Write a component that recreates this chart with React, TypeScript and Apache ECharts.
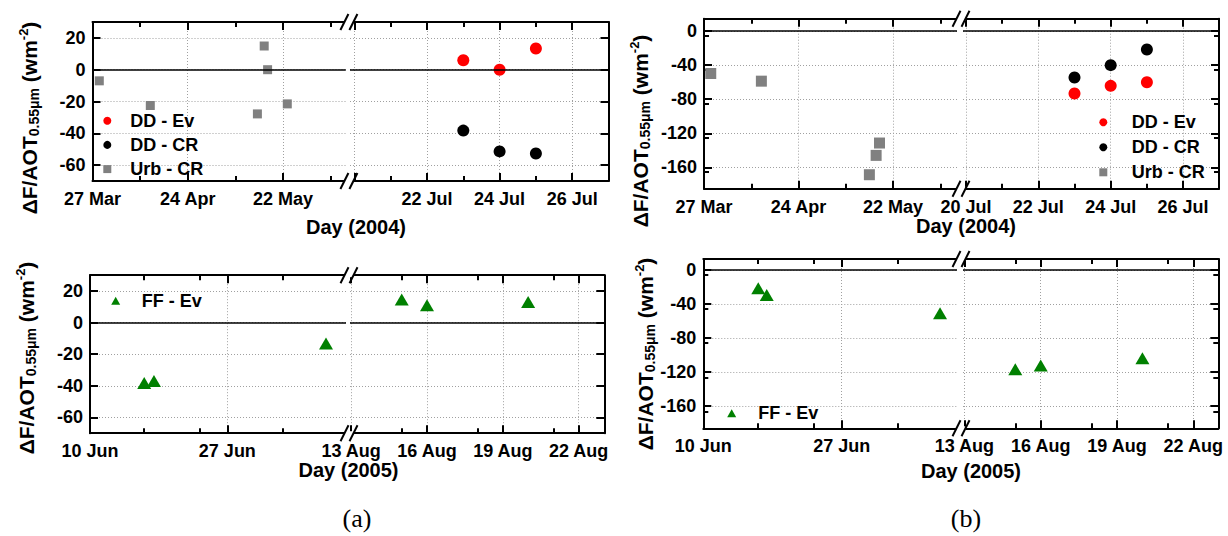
import React, { useEffect, useRef } from 'react';
import * as echarts from 'echarts';

const FONT = '"Liberation Sans", Arial, sans-serif';
const SERIF = '"Liberation Serif", "Times New Roman", serif';

// ---------------- data (date, ΔF/AOT in W m-2) ----------------
const aTopDDEv: [string, number][] = [['2004-07-23', 5.9], ['2004-07-24', 0], ['2004-07-25', 13.3]];
const aTopDDCR: [string, number][] = [['2004-07-23', -38.3], ['2004-07-24', -51.4], ['2004-07-25', -52.7]];
const aTopUrbCR: [string, number][] = [
  ['2004-03-29', -7], ['2004-04-13', -22.5], ['2004-05-14T12:00', -27.8],
  ['2004-05-16T12:00', 14.9], ['2004-05-17T12:00', 0], ['2004-05-23T07:00', -21.5],
];
const bTopDDEv: [string, number][] = [['2004-07-23', -73.3], ['2004-07-24', -64.3], ['2004-07-25', -60]];
const bTopDDCR: [string, number][] = [['2004-07-23', -54.5], ['2004-07-24', -40], ['2004-07-25', -21.6]];
const bTopUrbCR: [string, number][] = [
  ['2004-03-29', -49.8], ['2004-04-13', -58.8], ['2004-05-15', -168.6],
  ['2004-05-17', -145.9], ['2004-05-18', -131.4],
];
const aBotFFEv: [string, number][] = [
  ['2005-06-16T17:00', -38.3], ['2005-06-17T22:00', -37], ['2005-07-09T05:00', -13.3],
  ['2005-08-15', 14.6], ['2005-08-16', 11], ['2005-08-20', 13],
];
const bBotFFEv: [string, number][] = [
  ['2005-06-16T18:00', -21.5], ['2005-06-17T19:00', -29.3], ['2005-07-09T02:00', -50.8],
  ['2005-08-15', -116.5], ['2005-08-16', -112.3], ['2005-08-20', -103.6],
];

// ---------------- tick labels ----------------
const topLeftTicks = ['2004-03-27', '2004-04-24', '2004-05-22'];
const topLeftMinor = ['2004-04-10', '2004-05-08', '2004-06-05'];
const topRightTicks = ['2004-07-20', '2004-07-22', '2004-07-24', '2004-07-26'];
const topRightLabelsA = ['2004-07-22', '2004-07-24', '2004-07-26'];
const topRightLabelsB = ['2004-07-20', '2004-07-22', '2004-07-24', '2004-07-26'];
const topRightMinor = ['2004-07-21', '2004-07-23', '2004-07-25'];
const botLeftTicks = ['2005-06-10', '2005-06-27'];
const botLeftMinor = ['2005-06-16T17:00', '2005-06-23T14:30', '2005-07-03T20:00'];
const botRightTicks = ['2005-08-13', '2005-08-16', '2005-08-19', '2005-08-22'];
const botRightMinor = ['2005-08-15', '2005-08-18', '2005-08-21'];
const yTicksA = [-60, -40, -20, 0, 20];
const yTicksB = [-160, -120, -80, -40, 0];

const MONTHS = ['Jan', 'Feb', 'Mar', 'Apr', 'May', 'Jun', 'Jul', 'Aug', 'Sep', 'Oct', 'Nov', 'Dec'];

function dayNumber(s: string): number {
  const [dp, tp] = s.split('T');
  const [y, m, d] = dp.split('-').map(Number);
  const [hh, mm] = (tp || '00:00').split(':').map(Number);
  return (Date.UTC(y, m - 1, d, hh, mm) - Date.UTC(y, 0, 1)) / 86400000 + 1;
}
function dayLabel(v: number, year: number): string {
  const d = new Date(Date.UTC(year, 0, 1) + Math.round(v - 1) * 86400000);
  return d.getUTCDate() + ' ' + MONTHS[d.getUTCMonth()];
}

type Seg = {
  left: number; right: number; anchor: string; anchorPx: number; ppd: number;
  major: string[]; minor: string[]; labels: string[];
};
type Panel = {
  year: number; top: number; height: number; yMin: number; yMax: number; yInterval: number;
  yTicks: number[]; L: Seg; R: Seg;
  series: { name: string; data: [string, number][]; symbol: string; size: number | number[]; color: string }[];
  legend: { left: number; top: number; gap: number; pad: number; items: { name: string; icon: string }[]; w: number };
  xTitle: { text: string; x: number; y: number };
  yTitle: { x: number; y: number };
};

const RED = '#ff0000', BLACK = '#000000', GRAY = '#808080', GREEN = '#008000';

const panels: Panel[] = [
  {
    year: 2004, top: 22, height: 159, yMin: -70, yMax: 30, yInterval: 20, yTicks: yTicksA,
    L: { left: 92.5, right: 345.8, anchor: '2004-03-27', anchorPx: 92.5, ppd: 3.4, major: topLeftTicks, minor: topLeftMinor, labels: topLeftTicks },
    R: { left: 350, right: 608.5, anchor: '2004-07-22', anchorPx: 427, ppd: 36.3, major: topRightTicks, minor: topRightMinor, labels: topRightLabelsA },
    series: [
      { name: 'DD - Ev', data: aTopDDEv, symbol: 'circle', size: 12, color: RED },
      { name: 'DD - CR', data: aTopDDCR, symbol: 'circle', size: 12, color: BLACK },
      { name: 'Urb - CR', data: aTopUrbCR, symbol: 'rect', size: 9, color: GRAY },
    ],
    legend: { left: 103.3, top: 111.7, gap: 6.2, pad: 14, w: 8, items: [{ name: 'DD - Ev', icon: 'circle' }, { name: 'DD - CR', icon: 'circle' }, { name: 'Urb - CR', icon: 'rect' }] },
    xTitle: { text: 'Day (2004)', x: 356, y: 227 },
    yTitle: { x: 29, y: 118 },
  },
  {
    year: 2004, top: 18.7, height: 170, yMin: -185, yMax: 14.5, yInterval: 40, yTicks: yTicksB,
    L: { left: 704, right: 957, anchor: '2004-03-27', anchorPx: 704, ppd: 3.375, major: topLeftTicks, minor: topLeftMinor, labels: topLeftTicks },
    R: { left: 963, right: 1219, anchor: '2004-07-22', anchorPx: 1038.3, ppd: 36.2, major: topRightTicks, minor: topRightMinor, labels: topRightLabelsB },
    series: [
      { name: 'DD - Ev', data: bTopDDEv, symbol: 'circle', size: 12, color: RED },
      { name: 'DD - CR', data: bTopDDCR, symbol: 'circle', size: 12, color: BLACK },
      { name: 'Urb - CR', data: bTopUrbCR, symbol: 'rect', size: 11, color: GRAY },
    ],
    legend: { left: 1099.3, top: 113.3, gap: 7, pad: 19.4, w: 8, items: [{ name: 'DD - Ev', icon: 'circle' }, { name: 'DD - CR', icon: 'circle' }, { name: 'Urb - CR', icon: 'rect' }] },
    xTitle: { text: 'Day (2004)', x: 966, y: 226 },
    yTitle: { x: 640, y: 131 },
  },
  {
    year: 2005, top: 275.2, height: 158, yMin: -70, yMax: 30, yInterval: 20, yTicks: yTicksA,
    L: { left: 90, right: 346, anchor: '2005-06-10', anchorPx: 90, ppd: 8.08, major: botLeftTicks, minor: botLeftMinor, labels: botLeftTicks },
    R: { left: 350, right: 604.3, anchor: '2005-08-16', anchorPx: 427, ppd: 25.28, major: botRightTicks, minor: botRightMinor, labels: botRightTicks },
    series: [{ name: 'FF - Ev', data: aBotFFEv, symbol: 'triangle', size: [14, 12], color: GREEN }],
    legend: { left: 111.2, top: 291.7, gap: 6, pad: 16.5, w: 9, items: [{ name: 'FF - Ev', icon: 'triangle' }] },
    xTitle: { text: 'Day (2005)', x: 348.5, y: 470 },
    yTitle: { x: 26, y: 358 },
  },
  {
    year: 2005, top: 259, height: 169.3, yMin: -186, yMax: 13, yInterval: 40, yTicks: yTicksB,
    L: { left: 703.3, right: 957, anchor: '2005-06-10', anchorPx: 703.3, ppd: 8.14, major: botLeftTicks, minor: botLeftMinor, labels: botLeftTicks },
    R: { left: 963, right: 1218.3, anchor: '2005-08-16', anchorPx: 1040.7, ppd: 25.43, major: botRightTicks, minor: botRightMinor, labels: botRightTicks },
    series: [{ name: 'FF - Ev', data: bBotFFEv, symbol: 'triangle', size: [14, 12], color: GREEN }],
    legend: { left: 727.2, top: 404.3, gap: 6, pad: 17.1, w: 9, items: [{ name: 'FF - Ev', icon: 'triangle' }] },
    xTitle: { text: 'Day (2005)', x: 971, y: 471 },
    yTitle: { x: 645, y: 354 },
  },
];

const LABEL = { color: '#000', fontFamily: FONT, fontWeight: 'bold' as const, fontSize: 18 };
const AXIS_LINE = { color: '#000', width: 2 };
const GRID_LINE = { color: '#a0a0a0', width: 1, type: [1, 2] };

function buildOption() {
  const grid: any[] = [];
  const xAxis: any[] = [];
  const yAxis: any[] = [];
  const series: any[] = [];
  const legend: any[] = [];
  const elements: any[] = [];

  panels.forEach((p) => {
    (['L', 'R'] as const).forEach((sk) => {
      const s = p[sk];
      const gi = grid.length;
      const a = dayNumber(s.anchor);
      const xMin = a - (s.anchorPx - s.left) / s.ppd;
      const xMax = a + (s.right - s.anchorPx) / s.ppd;
      grid.push({ left: s.left, top: p.top, width: s.right - s.left, height: p.height, outerBoundsMode: 'none', containLabel: false });
      const base = {
        type: 'value', gridIndex: gi, min: xMin, max: xMax,
        axisLine: { show: false, onZero: false }, axisLabel: { show: false }, splitLine: { show: false },
      };
      const major = s.major.map(dayNumber);
      const minor = s.minor.map(dayNumber);
      const labels = s.labels.map(dayNumber);
      const xi = xAxis.length;
      xAxis.push(
        {
          ...base, position: 'bottom',
          axisLine: { show: true, onZero: false, lineStyle: AXIS_LINE },
          axisTick: { show: true, inside: true, length: 8, lineStyle: AXIS_LINE, customValues: major },
          axisLabel: { show: true, ...LABEL, margin: 9, customValues: labels, formatter: (v: number) => dayLabel(v, p.year) },
          splitLine: { show: true, lineStyle: GRID_LINE },
        },
        { ...base, position: 'bottom', axisTick: { show: true, inside: true, length: 5, lineStyle: AXIS_LINE, customValues: minor } },
        {
          ...base, position: 'top',
          axisLine: { show: true, onZero: false, lineStyle: AXIS_LINE },
          axisTick: { show: true, inside: true, length: 8, lineStyle: AXIS_LINE, customValues: major },
        },
        { ...base, position: 'top', axisTick: { show: true, inside: true, length: 5, lineStyle: AXIS_LINE, customValues: minor } },
      );
      const side = sk === 'L' ? 'left' : 'right';
      const yi = yAxis.length;
      yAxis.push({
        type: 'value', gridIndex: gi, position: side, min: p.yMin, max: p.yMax, interval: p.yInterval,
        axisLine: { show: true, onZero: false, lineStyle: AXIS_LINE },
        axisTick: { show: true, inside: true, length: 8, lineStyle: AXIS_LINE, customValues: p.yTicks },
        minorTick: { show: true, splitNumber: 2, length: 5, lineStyle: AXIS_LINE },
        axisLabel: { show: side === 'left', ...LABEL, margin: 7, customValues: p.yTicks },
        splitLine: { show: true, lineStyle: GRID_LINE },
      });
      // zero line
      series.push({
        type: 'scatter', xAxisIndex: xi, yAxisIndex: yi, data: [], silent: true, z: 1,
        markLine: {
          silent: true, symbol: ['none', 'none'], label: { show: false },
          lineStyle: { color: '#000', width: 1.5, type: 'solid' }, data: [{ yAxis: 0 }],
        },
      });
      p.series.forEach((ser) => {
        const pts = ser.data
          .map(([d, v]) => [dayNumber(d), v])
          .filter(([x]) => x >= xMin && x <= xMax);
        if (!pts.length) return;
        series.push({
          type: 'scatter', name: ser.name, xAxisIndex: xi, yAxisIndex: yi, data: pts,
          symbol: ser.symbol, symbolSize: ser.size, z: 3, silent: true,
          itemStyle: { color: ser.color, opacity: 1 },
        });
      });
    });

    // break marks
    const bx = (p.L.right + p.R.left) / 2 + 1;
    [p.top, p.top + p.height].forEach((yy) => {
      elements.push({ type: 'rect', z: 50, shape: { x: bx - 4.5, y: yy - 2, width: 9, height: 4 }, style: { fill: '#fff' } });
      [-4.5, 4.5].forEach((d) => {
        elements.push({
          type: 'line', z: 51,
          shape: { x1: bx + d - 4, y1: yy + 8, x2: bx + d + 4, y2: yy - 8 },
          style: { stroke: '#000', lineWidth: 2 },
        });
      });
    });

    legend.push({
      orient: 'vertical', left: p.legend.left, top: p.legend.top, padding: 0, itemGap: p.legend.gap,
      itemWidth: p.legend.w, itemHeight: 8, selectedMode: false,
      data: p.legend.items,
      textStyle: { ...LABEL, padding: [0, 0, 0, p.legend.pad] },
    });

    elements.push({
      type: 'text', z: 60, x: p.xTitle.x, y: p.xTitle.y,
      style: { text: p.xTitle.text, fontFamily: FONT, fontWeight: 'bold', fontSize: 20, fill: '#000', align: 'center', verticalAlign: 'middle' },
    });
    elements.push({
      type: 'text', z: 60, x: p.yTitle.x, y: p.yTitle.y, rotation: Math.PI / 2,
      style: {
        text: '{m|ΔF/AOT}{s|0.55μm}{m| (wm}{p|-2}{m|)}',
        fontFamily: FONT, fontWeight: 'bold', fontSize: 21, fill: '#000', align: 'center', verticalAlign: 'middle',
        rich: {
          m: { fontFamily: FONT, fontWeight: 'bold', fontSize: 21, lineHeight: 24, fill: '#000' },
          s: { fontFamily: FONT, fontWeight: 'bold', fontSize: 14, verticalAlign: 'bottom', fill: '#000' },
          p: { fontFamily: FONT, fontWeight: 'bold', fontSize: 13, verticalAlign: 'top', fill: '#000' },
        },
      },
    });
  });

  elements.push(
    { type: 'text', z: 60, x: 357, y: 518, style: { text: '(a)', fontFamily: SERIF, fontSize: 26, fill: '#000', align: 'center', verticalAlign: 'middle' } },
    { type: 'text', z: 60, x: 966, y: 518, style: { text: '(b)', fontFamily: SERIF, fontSize: 26, fill: '#000', align: 'center', verticalAlign: 'middle' } },
  );

  return {
    animation: false,
    backgroundColor: '#ffffff',
    grid, xAxis, yAxis, series, legend,
    graphic: { elements },
  };
}

export default function App() {
  const ref = useRef<HTMLDivElement>(null);
  useEffect(() => {
    if (!ref.current) return;
    const chart = echarts.init(ref.current, undefined, { renderer: 'svg' });
    chart.setOption(buildOption() as any);
    return () => chart.dispose();
  }, []);
  return (
    <div
      ref={ref}
      style={{ position: 'fixed', left: 0, top: 0, width: 1228, height: 536, background: '#fff' }}
    />
  );
}
